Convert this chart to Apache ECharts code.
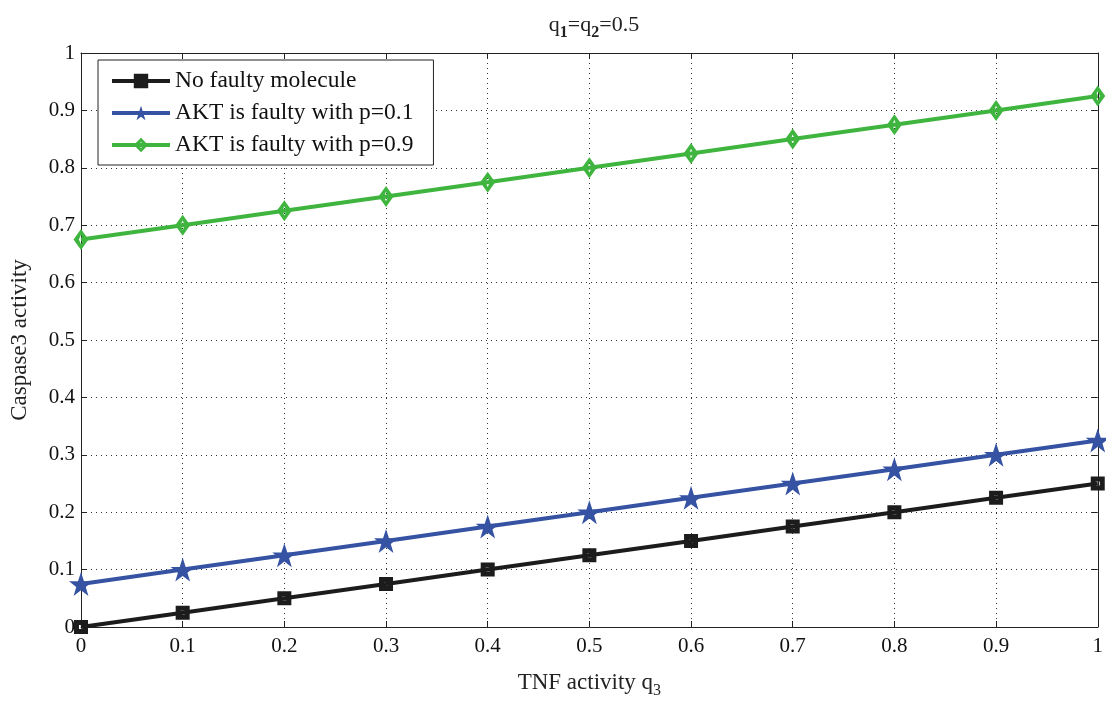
<!DOCTYPE html>
<html><head><meta charset="utf-8">
<script src="https://cdn.jsdelivr.net/npm/echarts@6/dist/echarts.min.js"></script>
<style>html,body{margin:0;padding:0;background:#fff}#c{width:1106px;height:704px}</style>
</head><body><div id="c"></div>
<script>
const xValues = [0, 0.1, 0.2, 0.3, 0.4, 0.5, 0.6, 0.7, 0.8, 0.9, 1];
const noFaulty = [0, 0.025, 0.05, 0.075, 0.1, 0.125, 0.15, 0.175, 0.2, 0.225, 0.25];
const aktP01 = [0.075, 0.1, 0.125, 0.15, 0.175, 0.2, 0.225, 0.25, 0.275, 0.3, 0.325];
const aktP09 = [0.675, 0.7, 0.725, 0.75, 0.775, 0.8, 0.825, 0.85, 0.875, 0.9, 0.925];
const seriesNames = ['No faulty molecule', 'AKT is faulty with p=0.1', 'AKT is faulty with p=0.9'];

const FONT = '"Liberation Serif", "DejaVu Serif", serif';
const star = 'path://M50,0 L61.8,35.1 L97.6,35.1 L68.8,56.7 L79.4,90.5 L50,69 L20.6,90.5 L31.2,56.7 L2.4,35.1 L38.2,35.1 Z';
const holedSquare = 'path://M0,0 L14,0 L14,14 L0,14 Z M5,5 L5,9 L9,9 L9,5 Z';
const holedDiamond = 'path://M7,0 L14,10 L7,20 L0,10 Z M7,5.5 L5,10 L7,14.5 L9,10 Z';
const pairs = a => xValues.map((x, i) => [x, a[i]]);

const chart = echarts.init(document.getElementById('c'), null, {renderer: 'canvas'});
const gridLine = {show: true, lineStyle: {color: '#333', type: [1, 4], width: 1}};
const axisCommon = {
  min: 0, max: 1, interval: 0.1,
  axisLine: {show: true, onZero: false, lineStyle: {color: '#222', width: 1}},
  axisTick: {show: true, inside: true, length: 6, lineStyle: {color: '#222'}},
};
const colors = ['#1c1c1c', '#3552a3', '#3fb53f'];
chart.setOption({
  backgroundColor: '#fff',
  animation: false,
  title: {
    text: '{b|q}{s|1}{b|=q}{s|2}{b|=0.5}',
    left: 589, textAlign: 'center', top: 4,
    textStyle: {rich: {
      b: {fontFamily: FONT, fontSize: 22, color: '#222', fontWeight: 'normal'},
      s: {fontFamily: FONT, fontSize: 16, color: '#222', verticalAlign: 'bottom', padding: [16, 0, 0, 0]}
    }}
  },
  grid: {left: 77, right: 4, top: 53, bottom: 65, containLabel: false},
  legend: {
    left: 98, top: 60, orient: 'vertical',
    data: seriesNames.map((n, i) => ({name: n, lineStyle: {width: 4, color: colors[i]}})),
    backgroundColor: '#fff', borderColor: '#222', borderWidth: 1,
    padding: [9, 20, 8, 12], itemGap: 8, itemWidth: 58, itemHeight: 18,
    textStyle: {fontFamily: FONT, fontSize: 23.5, color: '#111', lineHeight: 23}
  },
  xAxis: [
    Object.assign({}, axisCommon, {
      type: 'value', position: 'bottom',
      name: '{b|TNF activity q}{s|3}', nameLocation: 'middle', nameGap: 40,
      nameTextStyle: {rich: {
        b: {fontFamily: FONT, fontSize: 23, color: '#222'},
        s: {fontFamily: FONT, fontSize: 16, color: '#222', padding: [16, 0, 0, 0]}
      }},
      axisLabel: {fontFamily: FONT, fontSize: 21, color: '#111', margin: 9,
        formatter: v => String(+v.toFixed(1))},
      splitLine: gridLine
    }),
    Object.assign({}, axisCommon, {
      type: 'value', position: 'top', axisLabel: {show: false}, splitLine: {show: false}
    })
  ],
  yAxis: [
    Object.assign({}, axisCommon, {
      type: 'value', position: 'left',
      name: 'Caspase3 activity', nameLocation: 'middle', nameGap: 50,
      nameTextStyle: {fontFamily: FONT, fontSize: 23, color: '#222'},
      axisLabel: {fontFamily: FONT, fontSize: 21, color: '#111', margin: 6,
        formatter: v => String(+v.toFixed(1))},
      splitLine: gridLine
    }),
    Object.assign({}, axisCommon, {
      type: 'value', position: 'right', axisLabel: {show: false}, splitLine: {show: false}
    })
  ],
  series: [
    {
      name: seriesNames[0], type: 'line', data: pairs(noFaulty), clip: false,
      symbol: holedSquare, symbolSize: 14, showAllSymbol: true,
      lineStyle: {color: colors[0], width: 4},
      itemStyle: {color: colors[0], borderWidth: 0}
    },
    {
      name: seriesNames[1], type: 'line', data: pairs(aktP01), clip: false,
      symbol: star, symbolSize: 24, showAllSymbol: true,
      lineStyle: {color: colors[1], width: 4},
      itemStyle: {color: colors[1], borderWidth: 0}
    },
    {
      name: seriesNames[2], type: 'line', data: pairs(aktP09), clip: false,
      symbol: holedDiamond, symbolSize: [15, 21], showAllSymbol: true,
      lineStyle: {color: colors[2], width: 4},
      itemStyle: {color: colors[2], borderWidth: 0}
    }
  ]
});
</script>
</body></html>
